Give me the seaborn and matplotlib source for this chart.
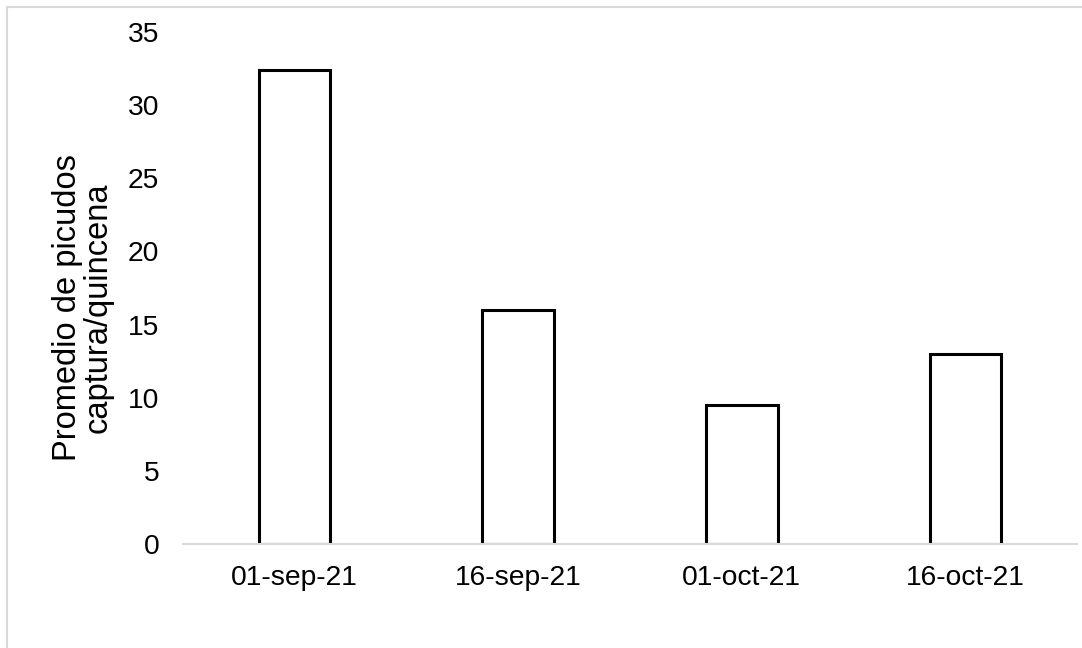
import matplotlib
matplotlib.use("Agg")
import matplotlib.pyplot as plt
import seaborn as sns
import pandas as pd
from matplotlib.patches import Rectangle

# data
fechas = ["01-sep-21", "16-sep-21", "01-oct-21", "16-oct-21"]
promedio = [32.4, 16.0, 9.5, 13.0]
y_ticks = [0, 5, 10, 15, 20, 25, 30, 35]

df = pd.DataFrame({"Fecha": fechas, "Promedio": promedio})

sns.set_theme(style="white")
plt.rcParams["font.family"] = ["Liberation Sans", "DejaVu Sans"]

fig = plt.figure(figsize=(10.82, 6.48), dpi=100)
ax = fig.add_axes([0.1691, 0.1605, 0.8263, 0.7901])

sns.barplot(data=df, x="Fecha", y="Promedio", color="white",
            edgecolor="black", linewidth=2.2, width=0.32, ax=ax)

ax.set_ylim(0, 35)
ax.set_xlim(-0.5, len(fechas) - 0.5)
ax.set_yticks(y_ticks)
ax.set_yticklabels([str(t) for t in y_ticks])

# axis styling like Excel: only a light gray baseline
for side in ["left", "right", "top"]:
    ax.spines[side].set_visible(False)
ax.spines["bottom"].set_color("#d9d9d9")
ax.spines["bottom"].set_linewidth(1.5)
ax.spines["bottom"].set_zorder(5)
ax.tick_params(axis="both", length=0, labelsize=20.3, colors="black")
ax.tick_params(axis="y", pad=17)
ax.tick_params(axis="x", pad=15)

ax.set_xlabel("")
ax.set_ylabel("Promedio de picudos\ncaptura/quincena", fontsize=23.5,
              color="black", linespacing=0.95)
ax.yaxis.label.set_verticalalignment("center")
ax.yaxis.set_label_coords(-0.112, 0.461)

# chart area border (left and top visible)
fig.patches.append(Rectangle((6.5 / 1082, -0.1), 1.2, 1 - 7 / 648 + 0.1,
                             transform=fig.transFigure, fill=False,
                             edgecolor="#d9d9d9", linewidth=1.5))

fig.savefig("out.png", dpi=100, facecolor="white")
